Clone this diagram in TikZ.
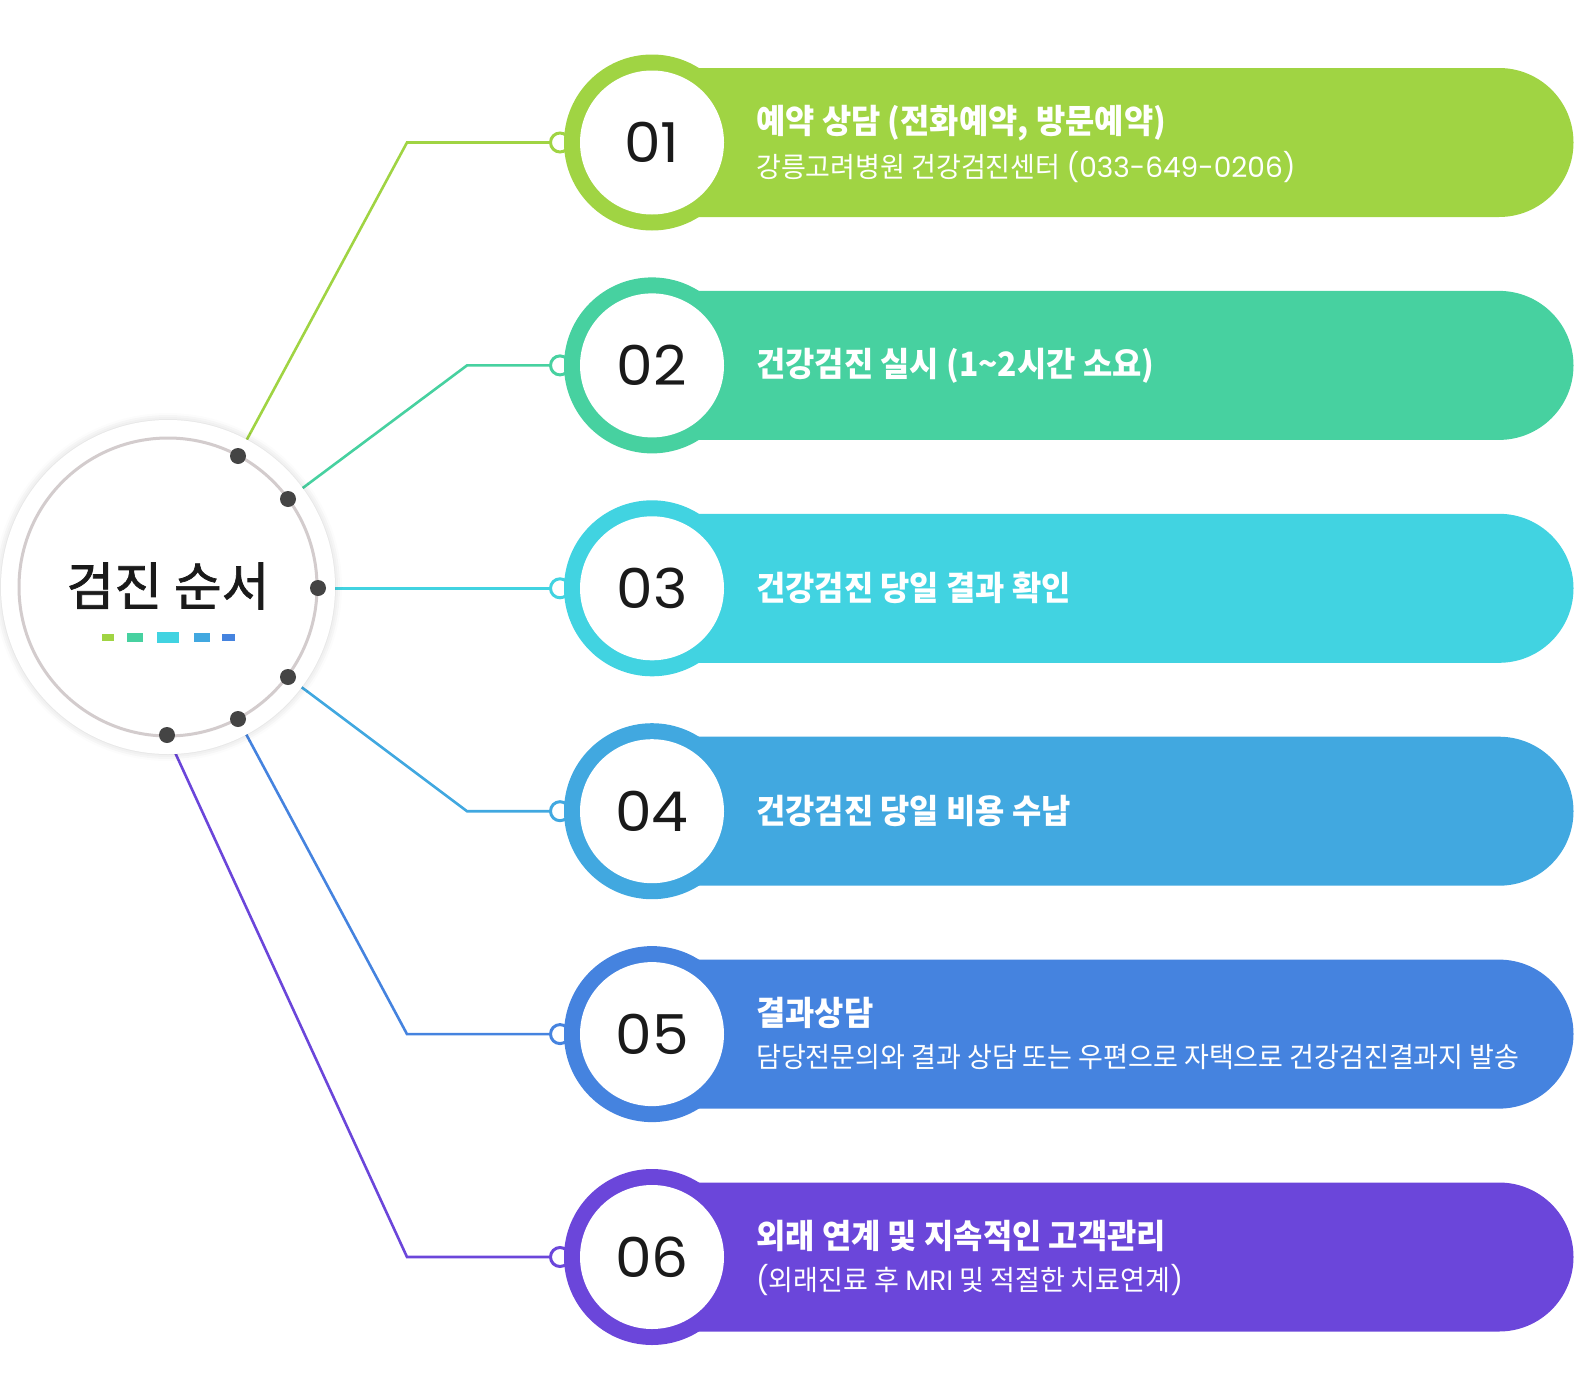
\documentclass[tikz,border=0pt]{standalone}
\usepackage{fontspec}
\newfontfamily\kr[FakeStretch=0.95]{Noto Sans CJK KR}
\newfontfamily\krs[FakeStretch=0.965]{Noto Sans CJK KR}
\newfontfamily\krt[FakeBold=1.4]{Noto Sans CJK KR}
\newfontfamily\num[FakeStretch=1.06]{Poppins}
\newfontfamily\lat{Poppins}
\usetikzlibrary{shadows.blur}
\definecolor{cA}{HTML}{A0D443}
\definecolor{cB}{HTML}{47D1A0}
\definecolor{cC}{HTML}{41D3E1}
\definecolor{cD}{HTML}{41A8E0}
\definecolor{cE}{HTML}{4583DF}
\definecolor{cF}{HTML}{6B46DA}
\definecolor{dotgray}{HTML}{444444}
\definecolor{ringgray}{HTML}{D3CCCD}
\definecolor{ink}{HTML}{1A1A1A}
\begin{document}
\begin{tikzpicture}[x=1pt,y=-1pt,
  conn/.style={line width=2.6pt},
  dotn/.style={circle,fill=dotgray,inner sep=0pt,minimum size=16pt},
  smallc/.style={circle,draw=#1,line width=3pt,fill=white,inner sep=0pt,minimum size=19pt},
  ringn/.style={circle,fill=#1,inner sep=0pt,minimum size=176pt},
  innern/.style={circle,fill=white,inner sep=0pt,minimum size=144pt,font=\num\fontsize{55}{55}\selectfont,text=ink},
  headt/.style={anchor=west,text=white,inner sep=0pt,font=\kr\bfseries\fontsize{33.5}{38}\selectfont},
  subt/.style={anchor=west,text=white,inner sep=0pt,font=\krs\fontsize{28}{32}\selectfont}
]
\useasboundingbox (0,0) rectangle (1575,1400);

% coordinates
\coordinate (d1) at (238,456);
\coordinate (d2) at (288,499);
\coordinate (d3) at (318,588);
\coordinate (d4) at (288,677);
\coordinate (d5) at (238,719);
\coordinate (d6) at (167,735);
\coordinate (b1) at (407,142.5);
\coordinate (b2) at (467,365.4);
\coordinate (b4) at (467,811.2);
\coordinate (b5) at (407,1034.1);
\coordinate (b6) at (407,1257);
\coordinate (s1) at (560,142.5);
\coordinate (s2) at (560,365.4);
\coordinate (s3) at (560,588.3);
\coordinate (s4) at (560,811.2);
\coordinate (s5) at (560,1034.1);
\coordinate (s6) at (560,1257);

% connectors
\draw[conn,cA] (d1) -- (b1) -- (s1);
\draw[conn,cB] (d2) -- (b2) -- (s2);
\draw[conn,cC] (d3 |- s3) -- (s3);
\draw[conn,cD] (d4) -- (b4) -- (s4);
\draw[conn,cE] (d5) -- (b5) -- (s5);
\draw[conn,cF] (d6) -- (b6) -- (s6);

% center circle
\node[circle,fill=white,inner sep=0pt,minimum size=334pt,
  blur shadow={shadow xshift=0pt,shadow yshift=0pt,shadow blur radius=7pt,shadow opacity=18}] (halo) at (168,587) {};
\node[circle,draw=ringgray,line width=3pt,inner sep=0pt,minimum size=298pt] (core) at (168,587) {};
\node[text=ink,inner sep=0pt,font=\krt\fontsize{52}{56}\selectfont] (title) at (168,586) {검진 순서};
\fill[cA] (102,634) rectangle (114,641);
\fill[cB] (127,633) rectangle (143,642);
\fill[cC] (157,632) rectangle (179,643);
\fill[cD] (194,633) rectangle (210,642);
\fill[cE] (222,634) rectangle (235,641);
\node[dotn] (dot1) at (d1) {};
\node[dotn] (dot2) at (d2) {};
\node[dotn] (dot3) at (d3) {};
\node[dotn] (dot4) at (d4) {};
\node[dotn] (dot5) at (d5) {};
\node[dotn] (dot6) at (d6) {};

% bars
\fill[cA] (652,68) -- (1499,68) arc[start angle=-90,end angle=90,radius=74.5] -- (652,217) -- cycle;
\fill[cB] (652,290.9) -- (1499,290.9) arc[start angle=-90,end angle=90,radius=74.5] -- (652,439.9) -- cycle;
\fill[cC] (652,513.8) -- (1499,513.8) arc[start angle=-90,end angle=90,radius=74.5] -- (652,662.8) -- cycle;
\fill[cD] (652,736.7) -- (1499,736.7) arc[start angle=-90,end angle=90,radius=74.5] -- (652,885.7) -- cycle;
\fill[cE] (652,959.6) -- (1499,959.6) arc[start angle=-90,end angle=90,radius=74.5] -- (652,1108.6) -- cycle;
\fill[cF] (652,1182.5) -- (1499,1182.5) arc[start angle=-90,end angle=90,radius=74.5] -- (652,1331.5) -- cycle;

% small connector circles
\node[smallc=cA] (k1) at (s1) {};
\node[smallc=cB] (k2) at (s2) {};
\node[smallc=cC] (k3) at (s3) {};
\node[smallc=cD] (k4) at (s4) {};
\node[smallc=cE] (k5) at (s5) {};
\node[smallc=cF] (k6) at (s6) {};

% number rings
\node[ringn=cA] (r1) at (652,142.5) {};
\node[ringn=cB] (r2) at (652,365.4) {};
\node[ringn=cC] (r3) at (652,588.3) {};
\node[ringn=cD] (r4) at (652,811.2) {};
\node[ringn=cE] (r5) at (652,1034.1) {};
\node[ringn=cF] (r6) at (652,1257) {};
\node[innern] (n1) at (r1) {01};
\node[innern] (n2) at (r2) {02};
\node[innern] (n3) at (r3) {03};
\node[innern] (n4) at (r4) {04};
\node[innern] (n5) at (r5) {05};
\node[innern] (n6) at (r6) {06};

% texts
\node[headt] (t1) at (756,123.5) {예약 상담 (전화예약, 방문예약)};
\node[subt] (u1) at (756,167.5) {강릉고려병원 건강검진센터 {\lat (033-649-0206)}};
\node[headt] (t2) at (756,365.4) {건강검진 실시 (1\textasciitilde 2시간 소요)};
\node[headt] (t3) at (756,588.3) {건강검진 당일 결과 확인};
\node[headt] (t4) at (756,811.2) {건강검진 당일 비용 수납};
\node[headt] (t5) at (756,1012.5) {결과상담};
\node[subt] (u5) at (756,1057.5) {담당전문의와 결과 상담 또는 우편으로 자택으로 건강검진결과지 발송};
\node[headt] (t6) at (756,1236) {외래 연계 및 지속적인 고객관리};
\node[subt] (u6) at (756,1280.5) {{\lat (}외래진료 후 {\lat MRI} 및 적절한 치료연계{\lat )}};
\end{tikzpicture}
\end{document}
